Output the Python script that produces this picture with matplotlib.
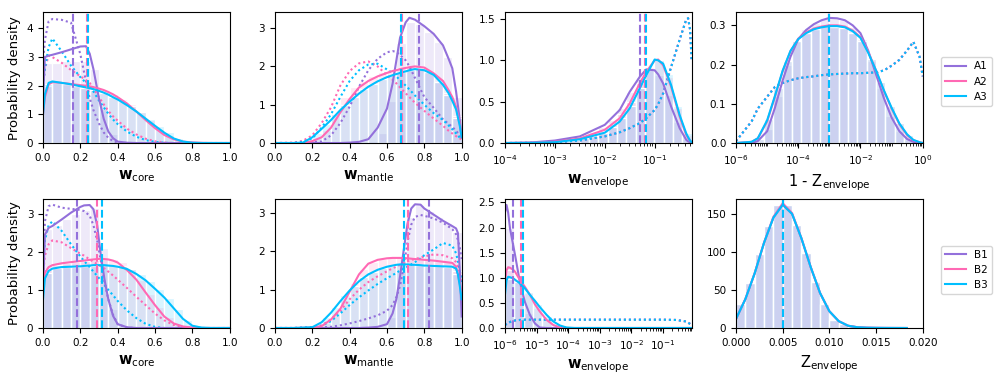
#Posterior / prior densities of the layer mass fractions

import numpy as np
import matplotlib.pyplot as plt
from matplotlib.colors import to_rgba
from matplotlib.ticker import LogLocator, NullFormatter

purple = '#9370DB'
pink = '#FF69B4'
cyan = '#00BFFF'
colors = [purple, pink, cyan]

# ---------------- row A : core ----------------
a_core_x = [0, 0.01, 0.03, 0.05, 0.1, 0.15, 0.2, 0.23, 0.25, 0.27, 0.3, 0.325, 0.35,
            0.375, 0.4, 0.45, 0.5, 0.55, 0.6, 0.65, 0.7, 0.75, 0.8, 0.85, 0.9, 1.0]
a_core_a1 = [1.6, 3.0, 3.05, 3.08, 3.17, 3.27, 3.37, 3.38, 3.12, 2.58, 1.55, 0.85, 0.4,
             0.17, 0.05, 0.01, 0, 0, 0, 0, 0, 0, 0, 0, 0, 0]
a_core_a2 = [1.0, 1.6, 2.05, 2.12, 2.1, 2.06, 2.02, 2.0, 1.98, 1.95, 1.9, 1.85, 1.78,
             1.7, 1.6, 1.38, 1.1, 0.8, 0.52, 0.28, 0.13, 0.05, 0.02, 0.005, 0, 0]
a_core_a3 = [1.0, 1.7, 2.1, 2.15, 2.1, 2.05, 1.98, 1.94, 1.91, 1.88, 1.82, 1.76, 1.69,
             1.6, 1.52, 1.32, 1.1, 0.85, 0.6, 0.36, 0.16, 0.05, 0.01, 0, 0, 0]
a_core_p1 = [2.8, 3.6, 4.25, 4.33, 4.3, 4.2, 3.1, 2.15, 1.57, 1.15, 0.68, 0.37, 0.18,
             0.07, 0.02, 0, 0, 0, 0, 0, 0, 0, 0, 0, 0, 0]
a_core_p2 = [2.0, 2.6, 3.05, 3.0, 2.8, 2.55, 2.33, 2.2, 2.1, 1.9, 1.6, 1.35, 1.12,
             0.93, 0.78, 0.5, 0.3, 0.15, 0.06, 0.02, 0, 0, 0, 0, 0, 0]
a_core_p3 = [2.0, 2.6, 3.35, 3.65, 3.2, 2.7, 2.3, 2.1, 1.98, 1.8, 1.48, 1.25, 1.02,
             0.82, 0.66, 0.4, 0.22, 0.1, 0.04, 0.01, 0, 0, 0, 0, 0, 0]
a_core_h1 = [2.8, 2.8, 2.85, 2.85, 2.85, 2.6, 1.2, 0.3, 0.05] + [0] * 11
a_core_h2 = [2.0, 2.1, 2.05, 2.0, 1.97, 1.92, 1.85, 1.72, 1.55, 1.35, 1.1, 0.8, 0.5,
             0.28, 0.12, 0.05, 0.02, 0, 0, 0]
a_core_h3 = [2.05, 2.12, 2.05, 1.98, 1.92, 1.85, 1.75, 1.62, 1.45, 1.28, 1.1, 0.85, 0.6,
             0.38, 0.18, 0.06, 0.01, 0, 0, 0]
a_core_med = [0.163, 0.238, 0.242]

# ---------------- row A : mantle ----------------
a_mant_x = [0, 0.1, 0.15, 0.2, 0.25, 0.3, 0.35, 0.4, 0.45, 0.5, 0.55, 0.6, 0.63, 0.65,
            0.67, 0.7, 0.72, 0.75, 0.8, 0.85, 0.9, 0.93, 0.95, 0.97, 0.99, 1.0]
a_mant_a1 = [0, 0, 0, 0, 0, 0, 0, 0.01, 0.03, 0.1, 0.4, 0.9, 1.55, 2.15, 2.75, 3.15,
             3.27, 3.22, 3.05, 2.85, 2.55, 2.2, 1.95, 1.35, 0.6, 0.15]
a_mant_a2 = [0, 0, 0, 0.05, 0.15, 0.4, 0.8, 1.15, 1.45, 1.62, 1.74, 1.83, 1.88, 1.9,
             1.93, 1.96, 1.98, 2.0, 1.97, 1.82, 1.62, 1.38, 1.2, 0.95, 0.5, 0.15]
a_mant_a3 = [0, 0, 0.01, 0.15, 0.37, 0.6, 0.86, 1.08, 1.29, 1.47, 1.61, 1.72, 1.77, 1.8,
             1.83, 1.87, 1.9, 1.93, 1.9, 1.78, 1.52, 1.3, 1.1, 0.88, 0.45, 0.15]
a_mant_p1 = [0, 0, 0, 0.02, 0.04, 0.2, 0.52, 0.95, 1.47, 1.9, 2.2, 2.37, 2.4, 2.38,
             2.3, 2.16, 2.0, 1.7, 1.2, 0.92, 0.62, 0.5, 0.42, 0.32, 0.2, 0.12]
a_mant_p2 = [0, 0.01, 0.06, 0.2, 0.52, 0.93, 1.5, 1.88, 2.08, 2.13, 2.0, 1.77, 1.65, 1.56,
             1.45, 1.3, 1.2, 1.05, 0.84, 0.64, 0.45, 0.32, 0.25, 0.18, 0.12, 0.1]
a_mant_p3 = [0, 0, 0.03, 0.12, 0.4, 0.75, 1.2, 1.62, 1.9, 2.05, 2.07, 1.92, 1.82, 1.74,
             1.64, 1.5, 1.4, 1.24, 1.0, 0.78, 0.6, 0.46, 0.36, 0.25, 0.14, 0.1]
a_mant_h1 = [0] * 9 + [0.01, 0.05, 0.25, 1.1, 2.6, 3.15, 3.1, 2.9, 2.65, 2.25, 1.2]
a_mant_h2 = [0, 0, 0, 0.02, 0.12, 0.35, 0.75, 1.2, 1.45, 1.62, 1.75, 1.85, 1.92, 1.97,
             2.0, 1.97, 1.85, 1.6, 1.3, 0.7]
a_mant_h3 = [0, 0, 0, 0.05, 0.25, 0.5, 0.75, 1.0, 1.2, 1.4, 1.55, 1.68, 1.77, 1.85,
             1.9, 1.92, 1.85, 1.6, 1.25, 0.65]
a_mant_med = [0.774, 0.68, 0.677]

# ---------------- row A : envelope (log10 of w) ----------------
a_env_exp = [-4, -3.5, -3, -2.5, -2, -1.7, -1.5, -1.3, -1.17, -1.0, -0.93, -0.83,
             -0.67, -0.5, -0.37, -0.33, -0.29, -0.26]
a_env_a1 = [0, 0.005, 0.03, 0.08, 0.22, 0.4, 0.62, 0.8, 0.89, 0.88, 0.83, 0.72,
            0.44, 0.18, 0.04, 0.02, 0.01, 0]
a_env_a2 = [0, 0.003, 0.015, 0.055, 0.16, 0.3, 0.48, 0.72, 0.86, 1.0, 1.01, 0.94,
            0.68, 0.32, 0.1, 0.06, 0.03, 0.01]
a_env_a3 = [0, 0.002, 0.01, 0.045, 0.125, 0.26, 0.42, 0.66, 0.82, 1.01, 1.0, 0.96,
            0.7, 0.34, 0.12, 0.07, 0.03, 0.01]
a_env_prior = [0, 0.002, 0.01, 0.03, 0.08, 0.13, 0.18, 0.24, 0.3, 0.4, 0.47, 0.6,
               0.92, 1.25, 1.49, 1.51, 1.37, 1.0]
a_env_h1 = [0, 0, 0.003, 0.006, 0.012, 0.02, 0.035, 0.06, 0.09, 0.13, 0.19, 0.28,
            0.42, 0.62, 0.8, 0.89, 0.82, 0.58, 0.25, 0.05]
a_env_h2 = [0, 0, 0.002, 0.004, 0.008, 0.014, 0.025, 0.045, 0.07, 0.1, 0.15, 0.23,
            0.35, 0.5, 0.72, 0.92, 1.0, 0.8, 0.42, 0.1]
a_env_h3 = [0, 0, 0.001, 0.003, 0.006, 0.01, 0.02, 0.035, 0.055, 0.085, 0.12, 0.19,
            0.3, 0.45, 0.66, 0.9, 1.0, 0.83, 0.45, 0.12]
a_env_med = [-1.3, -1.19, -1.17]

# ---------------- row A : 1 - Z envelope (log10) ----------------
a_z_exp = [-6, -5.5, -5.3, -5, -4.75, -4.5, -4.25, -4, -3.75, -3.5, -3.25, -3, -2.75,
           -2.5, -2.25, -2, -1.75, -1.5, -1.25, -1, -0.75, -0.5, -0.3, -0.1, 0]
a_z_a1 = [0, 0, 0.005, 0.03, 0.09, 0.16, 0.22, 0.265, 0.288, 0.303, 0.313, 0.319, 0.318,
          0.313, 0.3, 0.28, 0.235, 0.175, 0.115, 0.065, 0.03, 0.01, 0.003, 0, 0]
a_z_a2 = [0, 0.003, 0.012, 0.055, 0.118, 0.183, 0.234, 0.266, 0.282, 0.292, 0.297, 0.3,
          0.3, 0.297, 0.287, 0.27, 0.232, 0.185, 0.133, 0.088, 0.048, 0.02, 0.007, 0.002, 0]
a_z_a3 = [0, 0.003, 0.012, 0.058, 0.12, 0.185, 0.235, 0.265, 0.28, 0.29, 0.295, 0.298,
          0.298, 0.295, 0.285, 0.268, 0.23, 0.185, 0.135, 0.09, 0.05, 0.022, 0.008, 0.002, 0]
a_z_prior = [0.005, 0.055, 0.088, 0.118, 0.143, 0.153, 0.16, 0.165, 0.168, 0.17, 0.173,
             0.175, 0.176, 0.177, 0.178, 0.178, 0.179, 0.18, 0.185, 0.197, 0.212, 0.236,
             0.258, 0.22, 0.17]
a_z_h1 = [0, 0, 0.002, 0.035, 0.12, 0.2, 0.26, 0.29, 0.305, 0.318, 0.318, 0.313, 0.295,
          0.265, 0.21, 0.14, 0.07, 0.03, 0.008, 0]
a_z_h23 = [0, 0, 0.01, 0.06, 0.14, 0.21, 0.26, 0.28, 0.29, 0.298, 0.297, 0.293, 0.28,
           0.26, 0.215, 0.155, 0.095, 0.05, 0.02, 0.004]
a_z_med = [-3.02, -3.02, -3.02]

# ---------------- row B : core ----------------
b_core_x = [0, 0.01, 0.03, 0.05, 0.1, 0.15, 0.2, 0.22, 0.25, 0.27, 0.29, 0.31, 0.33,
            0.35, 0.375, 0.4, 0.45, 0.5, 0.55, 0.6, 0.65, 0.7, 0.75, 0.8, 0.85, 0.9, 1.0]
b_core_b1 = [1.0, 2.45, 2.63, 2.68, 2.85, 3.03, 3.18, 3.22, 3.23, 3.12, 2.7, 1.9, 1.25,
             0.75, 0.32, 0.1, 0.02, 0, 0, 0, 0, 0, 0, 0, 0, 0, 0]
b_core_b2 = [1.0, 1.45, 1.6, 1.65, 1.7, 1.73, 1.76, 1.77, 1.79, 1.8, 1.81, 1.82, 1.81,
             1.8, 1.77, 1.72, 1.52, 1.27, 0.93, 0.6, 0.3, 0.12, 0.04, 0.01, 0, 0, 0]
b_core_b3 = [0.75, 1.3, 1.5, 1.56, 1.6, 1.61, 1.62, 1.63, 1.64, 1.65, 1.65, 1.65, 1.65,
             1.64, 1.63, 1.61, 1.55, 1.42, 1.25, 1.03, 0.8, 0.52, 0.24, 0.06, 0.01, 0, 0]
b_core_p1 = [1.5, 2.8, 3.2, 3.24, 3.16, 3.13, 3.1, 3.07, 2.95, 2.7, 2.3, 1.75, 1.2,
             0.75, 0.35, 0.1, 0.01, 0, 0, 0, 0, 0, 0, 0, 0, 0, 0]
b_core_p2 = [1.4, 1.9, 2.2, 2.3, 2.25, 2.1, 1.95, 1.9, 1.8, 1.74, 1.68, 1.62, 1.56,
             1.48, 1.38, 1.27, 1.05, 0.82, 0.6, 0.38, 0.2, 0.08, 0.02, 0, 0, 0, 0]
b_core_p3 = [1.6, 2.3, 2.7, 2.8, 2.55, 2.2, 1.88, 1.76, 1.6, 1.48, 1.37, 1.25, 1.13,
             1.0, 0.86, 0.71, 0.46, 0.26, 0.11, 0.03, 0, 0, 0, 0, 0, 0, 0]
b_core_h1 = [2.6, 2.7, 2.85, 3.0, 3.1, 3.15, 2.1, 0.5, 0.05] + [0] * 11
b_core_h2 = [1.55, 1.65, 1.7, 1.73, 1.76, 1.79, 1.81, 1.81, 1.73, 1.55, 1.25, 0.9,
             0.55, 0.28, 0.1, 0.03, 0.01, 0, 0, 0]
b_core_h3 = [1.45, 1.58, 1.6, 1.61, 1.62, 1.64, 1.65, 1.65, 1.62, 1.55, 1.42, 1.23,
             1.02, 0.78, 0.5, 0.22, 0.05, 0.01, 0, 0]
b_core_med = [0.182, 0.289, 0.316]

# ---------------- row B : mantle ----------------
b_mant_x = [0, 0.1, 0.2, 0.25, 0.3, 0.35, 0.4, 0.45, 0.5, 0.55, 0.6, 0.63, 0.65, 0.67,
            0.69, 0.71, 0.73, 0.75, 0.78, 0.8, 0.85, 0.9, 0.95, 0.97, 0.98, 0.99, 1.0]
b_mant_b1 = [0, 0, 0, 0, 0, 0, 0, 0, 0.01, 0.03, 0.1, 0.38, 0.75, 1.35, 2.05, 2.72,
             3.12, 3.23, 3.22, 3.12, 2.96, 2.8, 2.66, 2.6, 2.48, 1.5, 0.3]
b_mant_b2 = [0, 0, 0.01, 0.05, 0.22, 0.5, 0.95, 1.4, 1.68, 1.78, 1.82, 1.83, 1.83, 1.83,
             1.82, 1.82, 1.81, 1.8, 1.79, 1.78, 1.76, 1.73, 1.7, 1.6, 1.4, 1.15, 0.95]
b_mant_b3 = [0, 0, 0.02, 0.15, 0.4, 0.7, 0.98, 1.22, 1.4, 1.52, 1.6, 1.63, 1.65, 1.66,
             1.66, 1.66, 1.65, 1.65, 1.64, 1.63, 1.62, 1.61, 1.6, 1.55, 1.4, 1.1, 0.75]
b_mant_p1 = [0, 0, 0.01, 0.02, 0.03, 0.07, 0.12, 0.18, 0.25, 0.33, 0.45, 0.6, 0.8, 1.1,
             1.6, 2.25, 2.7, 2.9, 2.95, 2.93, 2.86, 2.75, 2.58, 2.45, 2.3, 2.1, 1.8]
b_mant_p2 = [0, 0, 0.02, 0.07, 0.22, 0.45, 0.75, 1.0, 1.2, 1.35, 1.48, 1.56, 1.6, 1.65,
             1.7, 1.74, 1.78, 1.8, 1.84, 1.87, 1.92, 1.9, 1.82, 1.72, 1.6, 1.45, 1.2]
b_mant_p3 = [0, 0, 0.02, 0.06, 0.18, 0.38, 0.6, 0.8, 0.98, 1.15, 1.3, 1.38, 1.44, 1.5,
             1.55, 1.6, 1.66, 1.72, 1.82, 1.9, 2.05, 2.22, 2.15, 1.95, 1.75, 1.5, 1.2]
b_mant_h1 = [0] * 10 + [0.01, 0.04, 0.3, 1.5, 2.9, 3.2, 3.05, 2.9, 2.75, 2.5]
b_mant_h2 = [0, 0, 0, 0, 0.02, 0.12, 0.35, 0.72, 1.18, 1.55, 1.73, 1.8, 1.82, 1.83,
             1.82, 1.8, 1.78, 1.75, 1.72, 1.5]
b_mant_h3 = [0, 0, 0, 0, 0.05, 0.28, 0.55, 0.85, 1.1, 1.32, 1.47, 1.57, 1.62, 1.66,
             1.66, 1.65, 1.63, 1.62, 1.6, 1.4]
b_mant_med = [0.824, 0.711, 0.69]

# ---------------- row B : envelope (log10 of w) ----------------
b_env_exp = [-6, -5.95, -5.9, -5.84, -5.74, -5.68, -5.53, -5.37, -5.21, -5.05, -4.9,
             -4.68, -4.47, -4.26, -4.05, -3.8, -3.5, -3, -2, -1, -0.58, -0.26, -0.09]
b_env_b1 = [2.3, 2.45, 2.3, 1.98, 1.65, 1.45, 0.92, 0.52, 0.26, 0.09, 0.01] + [0] * 12
b_env_b2 = [0.92, 1.15, 1.21, 1.2, 1.16, 1.12, 0.96, 0.82, 0.66, 0.47, 0.33, 0.16,
            0.06, 0.01] + [0] * 9
b_env_b3 = [0.66, 0.95, 1.02, 1.01, 0.99, 0.96, 0.89, 0.79, 0.66, 0.54, 0.42, 0.26,
            0.13, 0.05, 0.01] + [0] * 8
b_env_prior = [0.06, 0.08, 0.1, 0.12, 0.14, 0.15, 0.16] + [0.165] * 13 + [0.16, 0.13, 0.06]
b_env_h1 = [2.0, 0.95, 0.3, 0.03] + [0] * 16
b_env_h2 = [1.15, 0.98, 0.7, 0.4, 0.15, 0.04] + [0] * 14
b_env_h3 = [0.98, 0.92, 0.72, 0.48, 0.24, 0.08, 0.01] + [0] * 13
b_env_med = [-5.76, -5.49, -5.42]

# ---------------- row B : Z envelope ----------------
b_z_x = [0, 0.001, 0.002, 0.003, 0.004, 0.005, 0.006, 0.007, 0.008, 0.009, 0.01,
         0.011, 0.012, 0.013, 0.014, 0.015, 0.016, 0.017, 0.018, 0.0183]
b_z_b13 = [12, 38, 72, 112, 145, 162, 150, 118, 80, 46, 22, 9, 3, 1, 0.4, 0.2, 0.1,
           0.05, 0.02, 0]
b_z_b2 = [12, 38, 72, 112, 146, 164, 151, 118, 80, 46, 22, 9, 3, 1, 0.4, 0.2, 0.1,
          0.05, 0.02, 0]
b_z_h = [31, 59, 97, 134, 162, 162, 136, 99, 61, 31, 11, 5, 2, 0.6, 0.2, 0.1, 0.05,
         0.02, 0, 0]
b_z_med = [0.00505, 0.00505, 0.00505]

labels_a = ['A1', 'A2', 'A3']
labels_b = ['B1', 'B2', 'B3']


def panel(ax, x, solid, dotted, hist, med, xlim, ylim, logx=False):
    if logx:
        ax.set_xscale('log')
        edges = np.logspace(np.log10(xlim[0]), np.log10(xlim[1]), 21)
    else:
        edges = np.linspace(xlim[0], xlim[1], 21)
    for c, hh in zip(colors, hist):
        ax.bar(edges[:-1], hh, width=np.diff(edges), align='edge',
               facecolor=to_rgba(c, 0.15), edgecolor='white', linewidth=0.9)
    for c, d in zip(colors, dotted):
        ax.plot(x, d, color=c, lw=1.5, dashes=(1, 1.4))
    lines = []
    for c, s in zip(colors, solid):
        ln, = ax.plot(x, s, color=c, lw=1.5)
        lines.append(ln)
    for c, m in zip(colors, med):
        ax.axvline(m, color=c, ls='--', lw=1.5)
    ax.set_xlim(xlim)
    ax.set_ylim(ylim)
    ax.tick_params(labelsize=7.5)
    return lines


fig = plt.figure(figsize=(9.96, 3.83), dpi=100)
lefts = [0.0432, 0.2761, 0.507, 0.739]
bottoms = [0.6266, 0.1436]
heights = [0.341, 0.337]
axes = [[fig.add_axes([l, bottoms[r], 0.1874, heights[r]]) for l in lefts] for r in range(2)]

xlab = 10.5

# row A
ax = axes[0][0]
panel(ax, a_core_x, [a_core_a1, a_core_a2, a_core_a3], [a_core_p1, a_core_p2, a_core_p3],
      [a_core_h1, a_core_h2, a_core_h3], a_core_med, (0, 1), (0, 4.56))
ax.set_yticks([0, 1, 2, 3, 4])
ax.set_xlabel(r'$\mathbf{w}_{\mathrm{core}}$', fontsize=xlab)
ax.set_ylabel('Probability density', fontsize=9.5)

ax = axes[0][1]
panel(ax, a_mant_x, [a_mant_a1, a_mant_a2, a_mant_a3], [a_mant_p1, a_mant_p2, a_mant_p3],
      [a_mant_h1, a_mant_h2, a_mant_h3], a_mant_med, (0, 1), (0, 3.41))
ax.set_yticks([0, 1, 2, 3])
ax.set_xlabel(r'$\mathbf{w}_{\mathrm{mantle}}$', fontsize=xlab)

ax = axes[0][2]
xe = np.power(10.0, a_env_exp)
panel(ax, xe, [a_env_a1, a_env_a2, a_env_a3], [a_env_prior] * 3,
      [a_env_h1, a_env_h2, a_env_h3], np.power(10.0, a_env_med), (1e-4, 0.55), (0, 1.58), logx=True)
ax.set_xticks([1e-4, 1e-3, 1e-2, 1e-1])
ax.xaxis.set_minor_locator(LogLocator(base=10, subs=np.arange(2, 10), numticks=50))
ax.xaxis.set_minor_formatter(NullFormatter())
ax.set_yticks([0, 0.5, 1.0, 1.5])
ax.set_xlabel(r'$\mathbf{w}_{\mathrm{envelope}}$', fontsize=xlab)

ax = axes[0][3]
xz = np.power(10.0, a_z_exp)
lines_a = panel(ax, xz, [a_z_a1, a_z_a2, a_z_a3], [a_z_prior] * 3,
                [a_z_h1, a_z_h23, a_z_h23], np.power(10.0, a_z_med), (1e-6, 1.0), (0, 0.333), logx=True)
ax.set_xticks([1e-6, 1e-4, 1e-2, 1e0])
ax.xaxis.set_minor_locator(LogLocator(base=10, subs=np.arange(1, 10), numticks=50))
ax.xaxis.set_minor_formatter(NullFormatter())
ax.set_yticks([0, 0.1, 0.2, 0.3])
ax.set_xlabel(r'1 - Z$_{\mathrm{envelope}}$', fontsize=xlab)
ax.legend(lines_a, labels_a, loc='center left', bbox_to_anchor=(1.07, 0.47), fontsize=7.5)

# row B
ax = axes[1][0]
panel(ax, b_core_x, [b_core_b1, b_core_b2, b_core_b3], [b_core_p1, b_core_p2, b_core_p3],
      [b_core_h1, b_core_h2, b_core_h3], b_core_med, (0, 1), (0, 3.39))
ax.set_yticks([0, 1, 2, 3])
ax.set_xlabel(r'$\mathbf{w}_{\mathrm{core}}$', fontsize=xlab)
ax.set_ylabel('Probability density', fontsize=9.5)

ax = axes[1][1]
panel(ax, b_mant_x, [b_mant_b1, b_mant_b2, b_mant_b3], [b_mant_p1, b_mant_p2, b_mant_p3],
      [b_mant_h1, b_mant_h2, b_mant_h3], b_mant_med, (0, 1), (0, 3.37))
ax.set_yticks([0, 1, 2, 3])
ax.set_xlabel(r'$\mathbf{w}_{\mathrm{mantle}}$', fontsize=xlab)

ax = axes[1][2]
xb = np.power(10.0, b_env_exp)
panel(ax, xb, [b_env_b1, b_env_b2, b_env_b3], [b_env_prior] * 3,
      [b_env_h1, b_env_h2, b_env_h3], np.power(10.0, b_env_med), (1e-6, 0.81), (0, 2.57), logx=True)
ax.set_xticks([1e-6, 1e-5, 1e-4, 1e-3, 1e-2, 1e-1])
ax.xaxis.set_minor_locator(LogLocator(base=10, subs=np.arange(2, 10), numticks=50))
ax.xaxis.set_minor_formatter(NullFormatter())
ax.set_yticks([0, 0.5, 1.0, 1.5, 2.0, 2.5])
ax.set_xlabel(r'$\mathbf{w}_{\mathrm{envelope}}$', fontsize=xlab)

ax = axes[1][3]
lines_b = panel(ax, b_z_x, [b_z_b13, b_z_b2, b_z_b13], [],
                [b_z_h, b_z_h, b_z_h], b_z_med, (0, 0.02), (0, 169.6))
ax.set_xticks([0, 0.005, 0.01, 0.015, 0.02])
ax.set_yticks([0, 50, 100, 150])
ax.set_xlabel(r'Z$_{\mathrm{envelope}}$', fontsize=xlab)
ax.legend(lines_b, labels_b, loc='center left', bbox_to_anchor=(1.07, 0.45), fontsize=7.5)

fig.savefig('out.png', dpi=100)
